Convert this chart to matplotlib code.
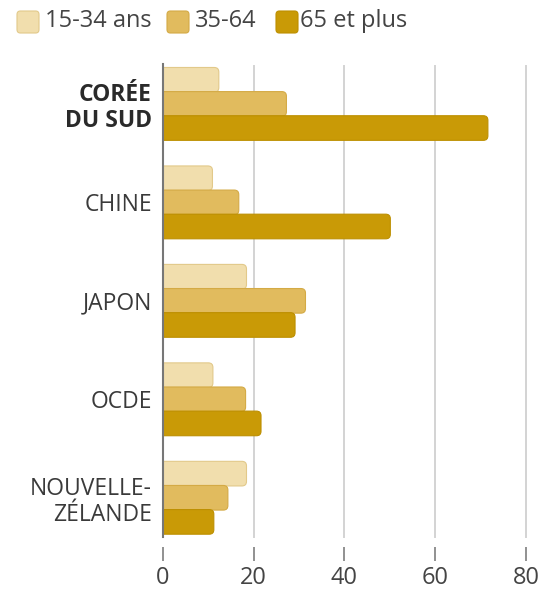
import matplotlib
matplotlib.use("Agg")
import matplotlib.pyplot as plt
from matplotlib.patches import FancyBboxPatch
import numpy as np

categories = ["CORÉE\nDU SUD", "CHINE", "JAPON", "OCDE", "NOUVELLE-\nZÉLANDE"]
series_names = ["15-34 ans", "35-64", "65 et plus"]
v_15_34 = [12.3, 10.9, 18.4, 11.0, 18.4]
v_35_64 = [27.2, 16.7, 31.4, 18.2, 14.3]
v_65_plus = [71.6, 50.1, 29.1, 21.6, 11.2]
xticks = [0, 20, 40, 60, 80]

colors = ["#F1DEAD", "#E1BB5E", "#C99A06"]
edges = ["#E2C98A", "#D4AA45", "#BD8F00"]

W, H = 549, 589
fig = plt.figure(figsize=(W / 100, H / 100), dpi=100)
fig.patch.set_facecolor("white")

# axes in pixel coordinates
ax_l, ax_r, ax_t, ax_b = 163, 526, 66, 547
ax = fig.add_axes([ax_l / W, 1 - ax_b / H, (ax_r - ax_l) / W, (ax_b - ax_t) / H])
ax.set_xlim(0, 80)
ylo, yhi = 4.5, -0.385
ax.set_ylim(ylo, yhi)

ypos = np.arange(len(categories))
offs = [-0.245, 0.0, 0.245]
bh = 0.25
series = [v_15_34, v_35_64, v_65_plus]

# grid lines (stop a little above the ticks)
grid_end_frac = (ax_b - 537) / (ax_b - ax_t)
for xv in xticks[1:]:
    ax.axvline(xv, ymin=grid_end_frac, ymax=1, color="#D3D3D3", lw=1.4, zorder=0, clip_on=False)

px_per_x = (ax_r - ax_l) / 80
px_per_y = (ax_b - ax_t) / (ylo - yhi)
aspect = px_per_x / px_per_y

for vals, off, c, ec in zip(series, offs, colors, edges):
    bars = ax.barh(ypos + off, vals, height=bh, color=c)
    for r in bars:
        x, y, w, h = r.get_x(), r.get_y(), r.get_width(), r.get_height()
        p = FancyBboxPatch((x - 3, y), w + 3, h,
                           boxstyle="round,pad=0,rounding_size=1.0",
                           mutation_aspect=aspect,
                           facecolor=c, edgecolor=ec, lw=0.8, zorder=2)
        ax.add_patch(p)
        r.remove()

ax.axvline(0, ymin=grid_end_frac, ymax=1.005, color="#777777", lw=1.5, zorder=3, clip_on=False)

for s in ax.spines.values():
    s.set_visible(False)

ax.set_xticks(xticks)
ax.set_xticklabels([str(t) for t in xticks], fontsize=17, color="#444444", family="Open Sans")
ax.tick_params(axis="x", length=10, width=1.3, color="#888888", pad=4)

ax.set_yticks(ypos)
ax.set_yticklabels(categories, fontsize=16.5, color="#3a3a3a", family="Open Sans", linespacing=1.12)
ax.tick_params(axis="y", length=0, pad=8)
ax.get_yticklabels()[0].set_fontweight("bold")
ax.get_yticklabels()[0].set_color("#2a2a2a")

# legend (manual)
leg = [(17, 45), (167, 195), (276, 300)]
sq = 22
for (sx, tx), c, ec, name in zip(leg, colors, edges, series_names):
    p = FancyBboxPatch((sx / W, 1 - 33 / H), sq / W, sq / H,
                       boxstyle="round,pad=0,rounding_size=0.006",
                       transform=fig.transFigure, facecolor=c, edgecolor=ec, lw=0.8)
    fig.add_artist(p)
    fig.text(tx / W, 1 - 21 / H, name, fontsize=17, color="#444444",
             family="Open Sans", va="center", ha="left")

fig.savefig("out.png", dpi=100, facecolor="white")
